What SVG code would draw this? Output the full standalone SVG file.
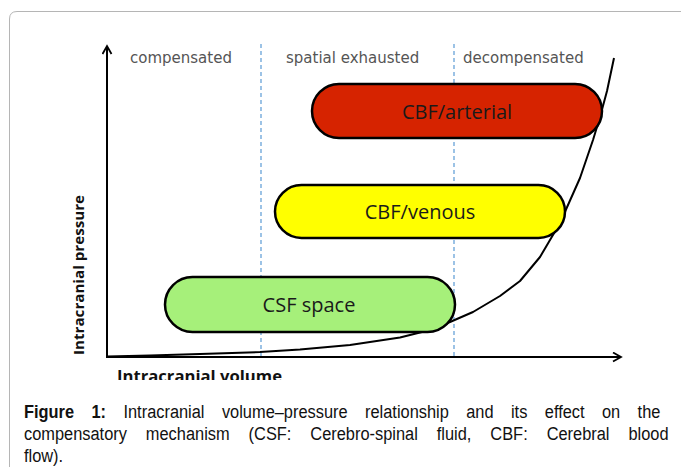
<svg xmlns="http://www.w3.org/2000/svg" width="681" height="467" viewBox="0 0 681 467">
<style>
.hdr{font-family:"DejaVu Sans",Verdana,sans-serif;font-size:15px;fill:#555}
.pill{stroke:#000;stroke-width:2.5}
.plbl{font-family:"Open Sans","Liberation Sans",sans-serif;font-size:20px;fill:#1a1a1a;text-anchor:middle}
.axlbl{font-family:"Open Sans","Liberation Sans",sans-serif;font-weight:bold;fill:#111}
.dash{stroke:#5b9bd5;stroke-width:1.2;stroke-dasharray:4 3;fill:none}
.axis{stroke:#000;stroke-width:2;fill:none}
.cap{font-family:"Liberation Sans",Arial,sans-serif;font-size:19px;fill:#111}
</style>
<defs>
<marker id="arr" markerUnits="userSpaceOnUse" markerWidth="12" markerHeight="12" refX="9" refY="5" orient="auto">
<path d="M1,0.5 L9,5 L1,9.5" fill="none" stroke="#000" stroke-width="1.8"/>
</marker>
<clipPath id="clipx"><rect x="0" y="0" width="681" height="380"/></clipPath>
</defs>
<rect width="681" height="467" fill="#fff"/>
<path d="M9.5,470 L9.5,19 Q9.5,11.5 17,11.5 L681,11.5" fill="none" stroke="#b5b5b5" stroke-width="1"/>

<g id="headers">
<text class="hdr" x="130" y="63">compensated</text>
<text class="hdr" x="286" y="63">spatial exhausted</text>
<text class="hdr" x="463" y="63">decompensated</text>
</g>

<g id="connectors">
<line class="dash" x1="261" y1="44" x2="261" y2="357"/>
<line class="dash" x1="454" y1="44" x2="454" y2="357"/>
<line class="axis" x1="107" y1="358" x2="107" y2="46" marker-end="url(#arr)"/>
<line class="axis" x1="106" y1="357" x2="621" y2="357" marker-end="url(#arr)"/>
<path d="M107,356.5 L150,355.6 L200,354 L260,352 L300,349.5 L350,345 L400,337.5 L430,330 L450,322 L473,312 L500,296 L520,281 L540,257 L560,223 L580,178 L593,140 L600,117 L607,91 L614,58" fill="none" stroke="#000" stroke-width="2" stroke-linejoin="round"/>
</g>

<g id="arterial">
<rect class="pill" x="312" y="84" width="290" height="54" rx="27" fill="#d62300"/>
<text class="plbl" x="457" y="119">CBF/arterial</text>
</g>
<g id="venous">
<rect class="pill" x="275" y="185" width="290" height="53" rx="26.5" fill="#ffff00"/>
<text class="plbl" x="420" y="219">CBF/venous</text>
</g>
<g id="csf">
<rect class="pill" x="165" y="277" width="290" height="55" rx="27.5" fill="#a6f07a"/>
<text class="plbl" x="309" y="312">CSF space</text>
</g>

<g id="axis-labels">
<text class="axlbl" font-size="15" text-anchor="middle" transform="translate(84,275) rotate(-90)" textLength="160" lengthAdjust="spacingAndGlyphs">Intracranial pressure</text>
<text class="axlbl" font-size="16.6" x="117" y="382" clip-path="url(#clipx)" textLength="165" lengthAdjust="spacingAndGlyphs">Intracranial volume</text>
</g>

<g id="caption" transform="scale(0.863 1)">
<text class="cap" x="27.8" y="418" word-spacing="14.9"><tspan font-weight="bold">Figure 1:</tspan> Intracranial volume–pressure relationship and its effect on the</text>
<text class="cap" x="27.8" y="440" word-spacing="16.7">compensatory mechanism (CSF: Cerebro-spinal fluid, CBF: Cerebral blood</text>
<text class="cap" x="27.8" y="462">flow).</text>
</g>
</svg>
